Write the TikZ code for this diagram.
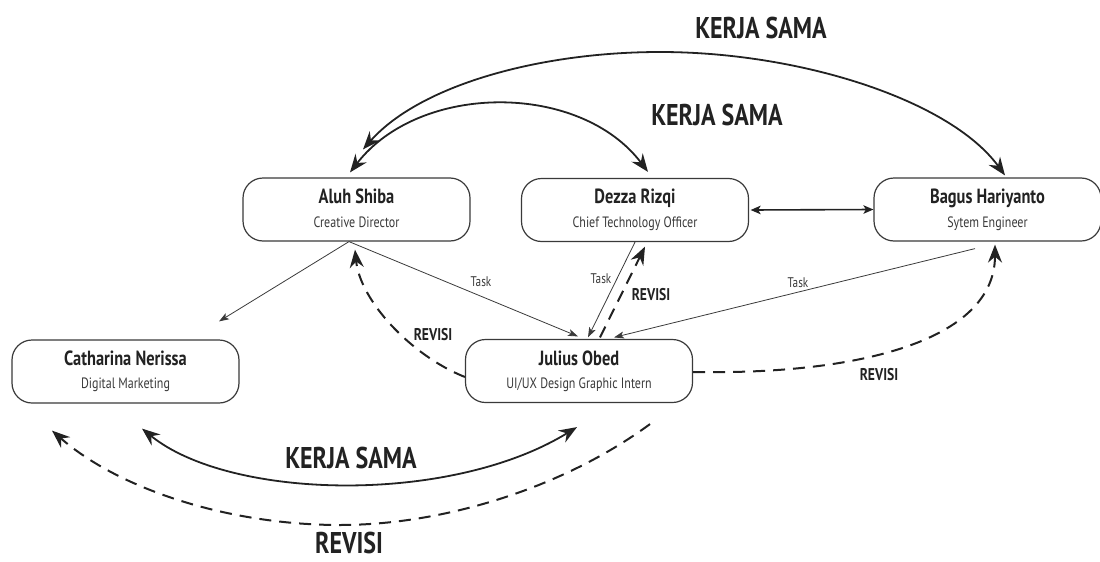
\documentclass[tikz,border=0pt]{standalone}
\usepackage{fontspec}
\setmainfont{PT Sans}[FakeStretch=0.8]
\usetikzlibrary{arrows.meta}
\definecolor{ink}{HTML}{222222}
\definecolor{soft}{HTML}{3A3A3A}
\tikzset{
  bighead/.tip={Stealth[length=18pt,width=14pt,inset=6pt]},
  smallhead/.tip={Stealth[length=10pt,width=7pt,inset=2.5pt]},
  midhead/.tip={Stealth[length=10pt,width=8.5pt,inset=2.5pt]},
  box/.style={draw=soft, line width=1.2pt, rounded corners=20pt, minimum width=227pt,
              minimum height=63pt, inner sep=0pt, fill=white},
  nametext/.style={anchor=base, font=\fontsize{20.5}{22}\selectfont\bfseries, text=ink, inner sep=0pt},
  roletext/.style={anchor=base, font=\fontsize{15}{17}\selectfont, text=soft, inner sep=0pt},
  bigtag/.style={anchor=base, font=\fontsize{30}{32}\selectfont\bfseries, text=ink, inner sep=0pt},
  revtag/.style={anchor=base, font=\fontsize{17}{19}\selectfont\bfseries, text=ink, inner sep=0pt},
  tasktag/.style={anchor=base, font=\fontsize{14}{16}\selectfont, text=soft, inner sep=0pt},
  taskline/.style={draw=soft, line width=0.8pt, -{smallhead}},
  revline/.style={draw=ink, line width=2pt, dash pattern=on 12pt off 8pt, -{bighead}},
  teamline/.style={draw=ink, line width=1.8pt, {bighead}-{bighead}},
  peerline/.style={draw=ink, line width=1.6pt, {midhead}-{midhead}},
}
\begin{document}
\begin{tikzpicture}[x=1pt,y=-1pt]
\useasboundingbox (0,0) rectangle (1100,562);

% team members
\node[box] (aluh) at (356.5,209.5) {};
\node[nametext] (aluhN) at ([yshift=6.5pt]aluh.center) {Aluh Shiba};
\node[roletext] (aluhR) at ([yshift=-17.5pt]aluh.center) {Creative Director};

\node[box] (dezza) at (635,210) {};
\node[nametext] (dezzaN) at ([yshift=6.5pt]dezza.center) {Dezza Rizqi};
\node[roletext] (dezzaR) at ([yshift=-17.5pt]dezza.center) {Chief Technology Officer};

\node[box] (bagus) at (987.5,209.5) {};
\node[nametext] (bagusN) at ([yshift=6.5pt]bagus.center) {Bagus Hariyanto};
\node[roletext] (bagusR) at ([yshift=-17.5pt]bagus.center) {Sytem Engineer};

\node[box] (cat) at (125.5,371.5) {};
\node[nametext] (catN) at ([yshift=6.5pt]cat.center) {Catharina Nerissa};
\node[roletext] (catR) at ([yshift=-16.5pt]cat.center) {Digital Marketing};

\node[box] (julius) at (579,371) {};
\node[nametext] (juliusN) at ([yshift=6pt]julius.center) {Julius Obed};
\node[roletext] (juliusR) at ([yshift=-17pt]julius.center) {UI/UX Design Graphic Intern};

% task assignments
\draw[taskline] ([xshift=-7.5pt]aluh.south) -- ([xshift=93.5pt,yshift=18pt]cat.north);
\draw[taskline] ([xshift=-7.5pt]aluh.south) -- ([xshift=-1pt,yshift=2.5pt]julius.north);
\draw[taskline] (dezza.south) -- ([xshift=9pt,yshift=1.5pt]julius.north);
\draw[taskline] ([xshift=-12.5pt,yshift=-7pt]bagus.south) -- ([xshift=35pt,yshift=1.5pt]julius.north);
\node[tasktag] (t1) at (481,286) {Task};
\node[tasktag] (t2) at (601,283) {Task};
\node[tasktag] (t3) at (798,287) {Task};

% peer link
\draw[peerline] ([xshift=1.5pt]dezza.east) -- (bagus.west);

% revisions back from the intern
\draw[revline] ([xshift=21pt,yshift=1.5pt]julius.north) -- ([xshift=10pt,yshift=-4.5pt]dezza.south);
\draw[revline] ([yshift=-6pt]julius.west) .. controls (410,355) and (360,300) .. ([xshift=-1.5pt,yshift=-8pt]aluh.south);
\draw[revline] ([yshift=-1pt]julius.east) .. controls (860,375) and (995,340) .. ([xshift=7.5pt,yshift=-3pt]bagus.south);
\node[revtag] (rv1) at (433,340) {REVISI};
\node[revtag] (rv2) at (651,300) {REVISI};
\node[revtag] (rv3) at (879,380) {REVISI};

% cooperation arcs
\draw[teamline] ([xshift=6.5pt,yshift=28pt]aluh.north) .. controls (420,85) and (540,52) .. (660,52)
                .. controls (800,52) and (950,100) .. ([xshift=17.5pt,yshift=2pt]bagus.north);
\draw[teamline] ([xshift=-6.5pt,yshift=5pt]aluh.north) .. controls (420,82) and (580,82) .. ([xshift=13pt,yshift=6pt]dezza.north);
\draw[teamline] ([xshift=16.5pt,yshift=-25pt]cat.south) .. controls (230,500) and (450,505) .. ([xshift=-2pt,yshift=-24pt]julius.south);
\node[bigtag] (ks1) at (761,38) {KERJA SAMA};
\node[bigtag] (ks2) at (717,125) {KERJA SAMA};
\node[bigtag] (ks3) at (351,468) {KERJA SAMA};

% revision from the intern to marketing
\draw[revline] ([xshift=71pt,yshift=-21pt]julius.south) .. controls (560,490) and (440,525) .. (340,525)
               .. controls (230,525) and (120,490) .. ([xshift=-73.5pt,yshift=-27pt]cat.south);
\node[bigtag] (rv0) at (349,553) {REVISI};
\end{tikzpicture}
\end{document}
